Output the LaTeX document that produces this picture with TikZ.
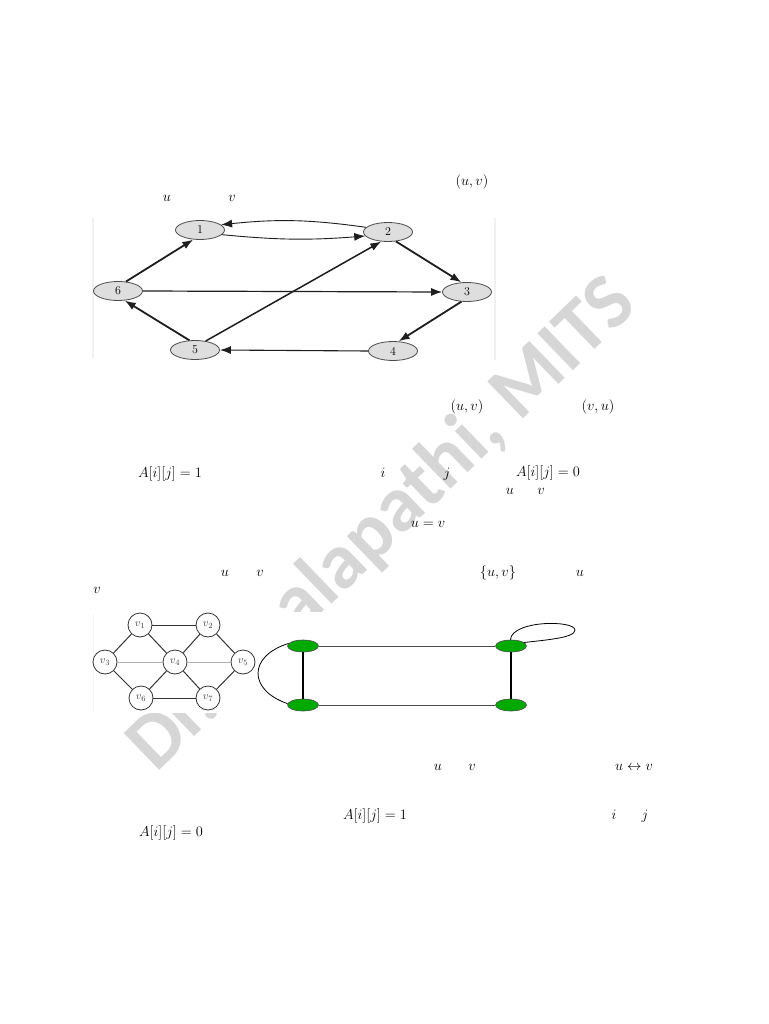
\documentclass[tikz,border=0pt]{standalone}
\usepackage{fontspec}
\newfontfamily\wmfont{Carlito}
\usetikzlibrary{arrows.meta,shapes.geometric}
\definecolor{nodegray}{RGB}{222,222,222}
\definecolor{edgedark}{RGB}{30,30,30}
\definecolor{gnode}{RGB}{0,170,0}
\definecolor{wmgray}{RGB}{214,214,214}
\begin{document}
\begin{tikzpicture}[x=1pt,y=-1pt,
  mtext/.style={anchor=base,inner sep=0pt,font=\fontsize{14}{16}\selectfont},
  dnode/.style={ellipse,draw=gray!60!black,fill=nodegray,line width=0.8pt,minimum width=49pt,minimum height=19pt,inner sep=0pt,font=\fontsize{12}{12}\selectfont},
  darr/.style={draw=edgedark,-{Latex[length=11pt,width=8pt]}},
  vnode/.style={circle,draw=gray!40!black,fill=white,line width=0.8pt,minimum size=24pt,inner sep=0pt,text=gray!50!black,font=\fontsize{11}{11}\selectfont},
  uedge/.style={draw=gray!40!black,line width=1pt},
  ledge/.style={draw=gray!60,line width=0.8pt},
  gnodestyle/.style={ellipse,draw=black!70,fill=gnode,line width=0.6pt,minimum width=31pt,minimum height=12pt,inner sep=0pt},
  frameline/.style={draw=gray!12,line width=1.5pt}
]
\useasboundingbox[fill=white] (0,0) rectangle (768,1024);

% watermark
\node[rotate=44,anchor=base west,inner sep=0pt,text=wmgray,font=\wmfont\bfseries\fontsize{79}{79}\selectfont] (wm) at (156,774) {Dr. Chalapathi, MITS};

% image backgrounds (occlude watermark)
\fill[white] (93,218) rectangle (495,361);
\fill[white] (93,612) rectangle (590,713);
\draw[frameline] (93,218) -- (93,358);
\draw[frameline] (495,218) -- (495,360);
\draw[draw=gray!8,line width=1pt] (93,614) -- (93,712);

% texts
\node[mtext] (t1) at (472,186) {$(u,v)$};
\node[mtext] (t2) at (167,202) {$u$};
\node[mtext] (t3) at (232,202) {$v$};
\node[mtext] (t4) at (467,410) {$(u,v)$};
\node[mtext] (t5) at (598,410) {$(v,u)$};
\node[mtext] (t6) at (170,477) {$A[i][j]=1$};
\node[mtext] (t7) at (383,477) {$i$};
\node[mtext] (t8) at (447,477) {$j$};
\node[mtext] (t9) at (548,476) {$A[i][j]=0$};
\node[mtext] (t10) at (510,494) {$u$};
\node[mtext] (t11) at (541,494) {$v$};
\node[mtext] (t12) at (428,527) {$u=v$};
\node[mtext] (t13) at (225,576) {$u$};
\node[mtext] (t14) at (260,576) {$v$};
\node[mtext] (t15) at (498,576) {$\{u,v\}$};
\node[mtext] (t16) at (580,576) {$u$};
\node[mtext] (t17) at (97,593) {$v$};
\node[mtext] (t18) at (438,770) {$u$};
\node[mtext] (t19) at (472,770) {$v$};
\node[mtext] (t20) at (634,770) {$u\leftrightarrow v$};
\node[mtext] (t21) at (375,819) {$A[i][j]=1$};
\node[mtext] (t22) at (614,819) {$i$};
\node[mtext] (t23) at (645,819) {$j$};
\node[mtext] (t24) at (171,836) {$A[i][j]=0$};

% directed graph
\node[dnode] (n1) at (200,230) {1};
\node[dnode] (n2) at (388,232) {2};
\node[dnode] (n3) at (467,292) {3};
\node[dnode] (n4) at (393,351) {4};
\node[dnode] (n5) at (195,350) {5};
\node[dnode] (n6) at (118,291) {6};

\draw[darr,line width=0.9pt] (n2.168) to[bend right=7] (n1.14);
\draw[darr,line width=0.9pt] (n1.-12) to[bend right=5] (n2.-170);
\draw[darr,line width=1.8pt] (n6.50) -- (n1.-125);
\draw[darr,line width=1.2pt] (n6.east) -- (n3.west);
\draw[darr,line width=1.8pt] (n5.120) -- (n6.-55);
\draw[darr,line width=1.5pt] (n5.40) -- (n2.-125);
\draw[darr,line width=1.8pt] (n2.-50) -- (n3.120);
\draw[darr,line width=1.8pt] (n3.-120) -- (n4.60);
\draw[darr,line width=1.1pt] (n4.west) -- (n5.east);

% undirected graph v1..v7
\node[vnode] (v1) at (140,625) {$v_1$};
\node[vnode] (v2) at (208,625) {$v_2$};
\node[vnode] (v3) at (105,662) {$v_3$};
\node[vnode] (v4) at (175,662) {$v_4$};
\node[vnode] (v5) at (243,662) {$v_5$};
\node[vnode] (v6) at (141,698) {$v_6$};
\node[vnode] (v7) at (208,698) {$v_7$};
\draw[uedge] (v1) -- (v2);
\draw[uedge] (v1) -- (v3);
\draw[uedge] (v1) -- (v4);
\draw[uedge] (v2) -- (v4);
\draw[uedge] (v2) -- (v5);
\draw[ledge] (v3) -- (v4);
\draw[ledge] (v4) -- (v5);
\draw[uedge] (v3) -- (v6);
\draw[uedge] (v4) -- (v6);
\draw[uedge] (v4) -- (v7);
\draw[uedge] (v5) -- (v7);
\draw[uedge] (v6) -- (v7);

% green multigraph
\node[gnodestyle] (g1) at (303,646) {};
\node[gnodestyle] (g2) at (511,646) {};
\node[gnodestyle] (g3) at (303,705) {};
\node[gnodestyle] (g4) at (511,705) {};
\draw[draw=gray!60!black,line width=0.7pt] (g1) -- (g2);
\draw[draw=gray!60!black,line width=0.7pt] (g3) -- (g4);
\draw[draw=black,line width=1.6pt] (g1) -- (g3);
\draw[draw=black,line width=1.6pt] (g2) -- (g4);
\draw[draw=black,line width=0.8pt] (g1.170) .. controls (248,656) and (248,690) .. (g3.175);
\draw[draw=black,line width=0.8pt] (g2.95) .. controls (512,620) and (575,620) .. (575,630) .. controls (575,638) and (545,640) .. (g2.15);
\end{tikzpicture}
\end{document}
